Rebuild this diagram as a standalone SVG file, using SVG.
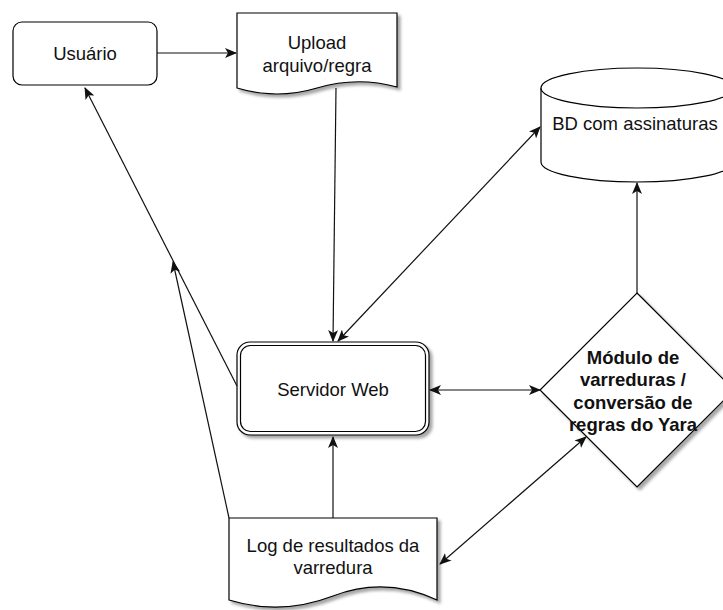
<svg xmlns="http://www.w3.org/2000/svg" width="723" height="610" viewBox="0 0 723 610">
<style>
.shape{fill:#fff;stroke:#000;stroke-width:1.2}
.txt{font-family:"Liberation Sans",Arial,sans-serif;font-size:18.5px;fill:#111;text-anchor:middle}
.bold{font-weight:bold}
.conn{stroke:#111;stroke-width:1.2;fill:none}
</style>
<defs>
<filter id="sh" x="-10%" y="-10%" width="130%" height="130%">
<feDropShadow dx="3" dy="3" stdDeviation="1.5" flood-color="#000" flood-opacity="0.35"/>
</filter>
<marker id="arr" viewBox="0 0 12 10" refX="11" refY="5" markerWidth="12" markerHeight="10" markerUnits="userSpaceOnUse" orient="auto-start-reverse">
<path d="M0,0 L12,5 L0,10 L3,5 Z" fill="#111"/>
</marker>
</defs>
<rect width="723" height="610" fill="#fff"/>

<g id="usuario">
<rect class="shape" x="13" y="22" width="144" height="63" rx="9"/>
<text class="txt" x="85" y="59.5">Usuário</text>
</g>

<g id="upload">
<path class="shape" filter="url(#sh)" d="M237,13 H397 V87 Q357,76 317,88 Q277,100 237,88 Z"/>
<text class="txt" x="317" y="48.5">Upload</text>
<text class="txt" x="317" y="71.5">arquivo/regra</text>
</g>

<g id="bd">
<path class="shape" d="M541,88 V162 A96,20 0 0 0 733,162 V88"/>
<ellipse class="shape" cx="637" cy="88" rx="96" ry="20"/>
<text class="txt" x="635" y="129.5">BD com assinaturas</text>
</g>

<g id="servidor">
<rect class="shape" filter="url(#sh)" x="237" y="342" width="192" height="93" rx="13"/>
<rect class="shape" x="240.5" y="345.5" width="185" height="86" rx="10"/>
<text class="txt" x="333" y="395.5">Servidor Web</text>
</g>

<g id="modulo">
<path class="shape" filter="url(#sh)" d="M637,293 L734,390 L637,487 L540,390 Z"/>
<text class="txt bold" x="633" y="363.5">Módulo de</text>
<text class="txt bold" x="633" y="386">varreduras /</text>
<text class="txt bold" x="633" y="408.5">conversão de</text>
<text class="txt bold" x="633" y="431">regras do Yara</text>
</g>

<g id="log">
<path class="shape" filter="url(#sh)" d="M229,518 H437 V600 Q385,576 333,596 Q281,616 229,600 Z"/>
<text class="txt" x="333" y="551.5">Log de resultados da</text>
<text class="txt" x="333" y="573.5">varredura</text>
</g>

<g id="connectors">
<line class="conn" x1="157" y1="53" x2="236" y2="53" marker-end="url(#arr)"/>
<line class="conn" x1="336" y1="88" x2="333" y2="341" marker-end="url(#arr)"/>
<line class="conn" x1="338" y1="341" x2="540" y2="127" marker-start="url(#arr)" marker-end="url(#arr)"/>
<line class="conn" x1="430" y1="390" x2="540" y2="390" marker-start="url(#arr)" marker-end="url(#arr)"/>
<line class="conn" x1="637" y1="293" x2="637" y2="183" marker-end="url(#arr)"/>
<line class="conn" x1="333" y1="518" x2="333" y2="437" marker-end="url(#arr)"/>
<line class="conn" x1="440" y1="564" x2="586" y2="437" marker-start="url(#arr)" marker-end="url(#arr)"/>
<line class="conn" x1="237" y1="386" x2="85" y2="88" marker-end="url(#arr)"/>
<line class="conn" x1="229" y1="518" x2="173" y2="262" marker-end="url(#arr)"/>
</g>
</svg>
